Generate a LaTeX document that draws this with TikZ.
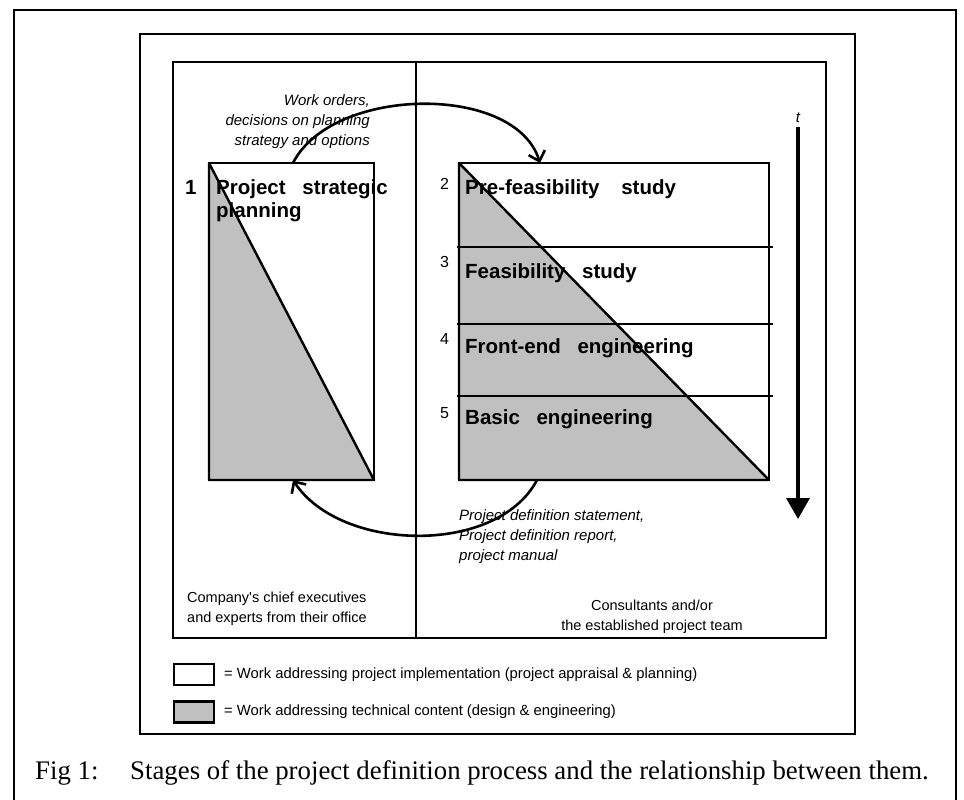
\documentclass[tikz,border=0pt]{standalone}
\usepackage{fontspec}
\setmainfont{Liberation Serif}
\setsansfont{Liberation Sans}
\usetikzlibrary{arrows.meta,positioning}
\definecolor{techgray}{RGB}{192,192,192}
\begin{document}
\begin{tikzpicture}[x=1pt, y=-1pt, >={Straight Barb[length=9pt,width=17pt]},
		frame/.style={line width=2.2pt},
		stagebox/.style={draw, line width=2.4pt, inner sep=0pt, outer sep=0pt},
		stagename/.style={anchor=base west, inner sep=0pt, font=\fontsize{20.5}{23}\selectfont\sffamily\bfseries},
		stagenum/.style={anchor=base west, inner sep=0pt, font=\fontsize{16}{18}\selectfont\sffamily},
		flow/.style={->, line width=2.6pt},
		note/.style={inner sep=0pt, font=\fontsize{15}{20}\selectfont\sffamily\itshape},
		party/.style={inner sep=0pt, font=\fontsize{14.5}{20.5}\selectfont\sffamily},
		legbox/.style={draw, line width=2.2pt, minimum width=40pt, minimum height=21pt, inner sep=0pt, outer sep=0pt},
		legtext/.style={inner sep=0pt, font=\fontsize{14.8}{17}\selectfont\sffamily}]
		\useasboundingbox (0,0) rectangle (964,800);
		\fill[white] (0,0) rectangle (964,800);
		% frames
		\draw[frame] (14,800) -- (14,10) -- (956,10) -- (956,800);
		\draw[frame] (140,34) rectangle (855,734);
		\draw[frame] (173,62) rectangle (826,638);
		\draw[frame] (416,62) -- (416,638);
		% stage 1
		\node[stagebox, minimum width=165pt, minimum height=317pt] (plan) at (291.5,321.5) {};
		\filldraw[fill=techgray, line width=2.4pt, line join=round]
			(plan.north west) -- (plan.south west) -- (plan.south east) -- cycle;
		\node[stagename] (plannum) at (185,194) {1};
		\node[stagename, anchor=north west, align=left] (plantitle) at (216,179)
			{Project\hspace{11pt} strategic\\planning};
		% stages 2 to 5
		\node[stagebox, minimum width=310pt, minimum height=317pt] (study) at (614,321.5) {};
		\filldraw[fill=techgray, line width=2.4pt, line join=round]
			(study.north west) -- (study.south west) -- (study.south east) -- cycle;
		\foreach \y in {247,324,396}
			\draw[line width=2.4pt] (457,\y) -- (773,\y);
		\node[stagenum] (prefeasnum) at (440,189) {2};
		\node[stagename] (prefeas) at (465,194) {Pre-feasibility\hspace{16pt} study};
		\node[stagenum] (feasnum) at (440,267) {3};
		\node[stagename] (feas) at (465,278) {Feasibility\hspace{11pt} study};
		\node[stagenum] (frontnum) at (440,344) {4};
		\node[stagename] (front) at (465,353) {Front-end\hspace{11pt} engineering};
		\node[stagenum] (basicnum) at (440,418) {5};
		\node[stagename] (basic) at (465,424) {Basic\hspace{11pt} engineering};
		% flows between the two sides
		\node[note, align=right, anchor=east] (orders) at (370,122)
			{Work orders,\\decisions on planning\\strategy and options};
		\draw[flow] ([xshift=1.5pt]plan.north) .. controls (332,86) and (515,83) .. ([xshift=-74pt]study.north);
		\draw[flow] ([xshift=-77pt]study.south) .. controls (497,556) and (340,552) .. ([xshift=1.5pt]plan.south);
		\node[note, align=left, anchor=west] (reports) at (459,537)
			{Project definition statement,\\Project definition report,\\project manual};
		% time axis
		\node[note] (tlabel) at (798,118) {t};
		\coordinate (tend) at (798,519);
		\draw[line width=3.5pt, -{Triangle[length=21pt,width=23pt]}] ([yshift=-4pt]tlabel.south) -- (tend);
		% who does the work
		\node[party, align=left, anchor=west] (executives) at (187,608.5)
			{Company\textquotesingle s chief executives\\and experts from their office};
		\node[party, align=center] (consultants) at (652,616.5)
			{Consultants and/or\\the established project team};
		% legend
		\node[legbox] (legwhite) at (194,674.5) {};
		\node[legbox, fill=techgray] (leggray) at (194,712) {};
		\node[legtext, right=10pt of legwhite] (legwhitetext)
			{= Work addressing project implementation (project appraisal \& planning)};
		\node[legtext, right=10pt of leggray] (leggraytext)
			{= Work addressing technical content (design \& engineering)};
		% caption
		\node[anchor=base west, inner sep=0pt, font=\fontsize{26.8}{30}\selectfont] (fignum) at (35,779) {Fig 1:};
		\node[anchor=base west, inner sep=0pt, font=\fontsize{26.8}{30}\selectfont] (figtext) at (130,779)
			{Stages of the project definition process and the relationship between them.};
\end{tikzpicture}
\end{document}
